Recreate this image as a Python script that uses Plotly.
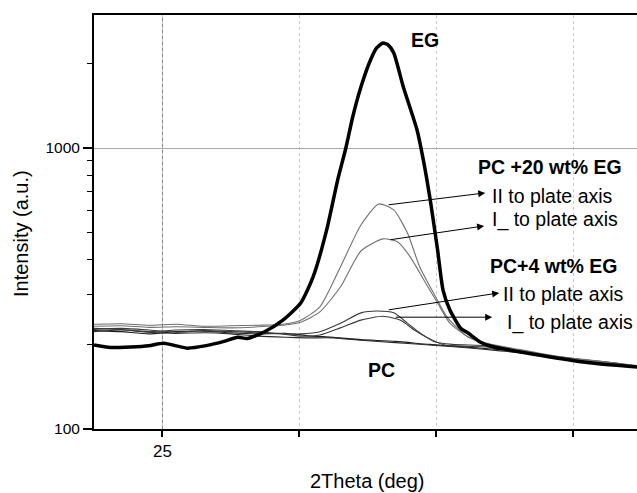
import math
import plotly.graph_objects as go

# ---- data (2Theta in deg, intensity in a.u.) ----
eg_x = [24.50, 24.62, 24.77, 24.90, 25.01, 25.18, 25.32, 25.45, 25.55, 25.62, 25.74, 25.88,
        26.01, 26.10, 26.20, 26.28, 26.34, 26.39, 26.45, 26.52, 26.565, 26.61, 26.65, 26.69,
        26.76, 26.86, 26.91, 26.96, 27.01, 27.05, 27.10, 27.18, 27.23, 27.32, 27.40, 27.76,
        28.12, 28.47]
eg_i = [199, 195, 196, 198, 202, 194, 198, 205, 212, 210, 221, 244,
        281, 347, 511, 769, 1000, 1289, 1648, 2056, 2270, 2364, 2325, 2178,
        1648, 1159, 885, 637, 434, 312, 265, 228, 220, 204, 197, 183,
        172, 166]

pc20_par_x = [24.50, 24.70, 24.90, 25.10, 25.30, 25.50, 25.70, 25.88, 26.01, 26.15, 26.30, 26.45,
              26.58, 26.69, 26.79, 26.88, 26.98, 27.08, 27.23, 27.37, 27.60, 27.90, 28.20, 28.47]
pc20_par_i = [236, 237, 234, 236, 232, 233, 234, 236, 244, 272, 377, 532,
              632, 602, 498, 377, 305, 250, 213, 202, 192, 181, 174, 168]

pc20_perp_x = [24.50, 24.70, 24.90, 25.10, 25.30, 25.50, 25.70, 25.88, 26.01, 26.15, 26.30, 26.45,
               26.61, 26.72, 26.81, 26.91, 27.01, 27.10, 27.23, 27.37, 27.60, 27.90, 28.20, 28.47]
pc20_perp_i = [232, 233, 230, 231, 230, 229, 231, 234, 240, 261, 320, 430,
               475, 463, 410, 339, 281, 238, 213, 201, 191, 180, 173, 167]

pc4_par_x = [24.50, 24.70, 24.90, 25.10, 25.30, 25.50, 25.70, 25.90, 26.01, 26.15, 26.30, 26.45,
             26.57, 26.69, 26.79, 26.88, 26.98, 27.12, 27.37, 27.60, 27.90, 28.20, 28.47]
pc4_par_i = [228, 226, 222, 225, 226, 224, 222, 218, 218, 222, 238, 259,
             263, 259, 238, 220, 205, 200, 198, 190, 180, 173, 167]

pc4_perp_x = [24.50, 24.70, 24.90, 25.10, 25.30, 25.50, 25.70, 25.90, 26.01, 26.15, 26.30, 26.45,
              26.61, 26.74, 26.84, 26.94, 27.06, 27.20, 27.37, 27.60, 27.90, 28.20, 28.47]
pc4_perp_i = [226, 228, 225, 221, 224, 222, 220, 217, 214, 216, 229, 244,
              252, 244, 225, 211, 199, 197, 196, 189, 179, 172, 166]

pc_x = [24.50, 24.70, 24.90, 25.10, 25.30, 25.50, 25.70, 25.90, 26.05, 26.25, 26.45, 26.70,
        26.95, 27.20, 27.45, 27.70, 28.00, 28.30, 28.47]
pc_a_i = [224, 222, 218, 222, 223, 220, 218, 219, 215, 212, 208, 205,
          200, 196, 192, 186, 178, 172, 167]
pc_b_i = [222, 225, 221, 219, 220, 218, 214, 212, 211, 211, 207, 203,
          199, 195, 190, 185, 177, 171, 166]

x_tick_vals = [25, 26, 27, 28]
x_tick_text = ["25", "", "", ""]
y_tick_vals = [100, 1000]
y_tick_text = ["100", "1000"]
y_minor_vals = [200, 300, 400, 500, 600, 700, 800, 900, 2000]

# label texts and anchor positions (2Theta, intensity)
labels = ["EG", "PC +20 wt% EG", "II to plate axis", "I_ to plate axis",
          "PC+4 wt% EG", "II to plate axis", "I_ to plate axis", "PC"]
label_x = [26.80, 27.29, 27.39, 27.39, 27.38, 27.47, 27.50, 26.49]
label_i = [2421, 855, 675, 555, 380, 302, 240, 162]
label_bold = [True, True, False, False, True, False, False, True]

# arrows: tail (on curve peak) -> head (towards label)
arrow_tail_x = [26.642, 26.657, 26.642, 26.693]
arrow_tail_i = [627, 471, 265, 250]
arrow_head_x = [27.358, 27.350, 27.460, 27.409]
arrow_head_i = [692, 528, 305, 250]

FONT = "Liberation Sans, Arial, Helvetica, sans-serif"

fig = go.Figure()


def add_line(x, y, color, width):
    fig.add_trace(go.Scatter(x=x, y=y, mode="lines",
                             line=dict(color=color, width=width, shape="spline", smoothing=0.6),
                             showlegend=False, hoverinfo="skip"))


add_line(pc_x, pc_a_i, "#1e1e1e", 1.1)
add_line(pc_x, pc_b_i, "#2a2a2a", 1.1)
add_line(pc4_par_x, pc4_par_i, "#3a3a3a", 1.1)
add_line(pc4_perp_x, pc4_perp_i, "#3a3a3a", 1.1)
add_line(pc20_par_x, pc20_par_i, "#707070", 1.1)
add_line(pc20_perp_x, pc20_perp_i, "#707070", 1.1)
add_line(eg_x, eg_i, "#000000", 3.5)

annotations = []
for t, lx, li, b in zip(labels, label_x, label_i, label_bold):
    annotations.append(dict(x=lx, y=math.log10(li), xref="x", yref="y",
                            text=f"<b>{t}</b>" if b else t, showarrow=False,
                            xanchor="left", yanchor="middle",
                            font=dict(family=FONT, size=19.5, color="black")))
for tx, ti, hx, hi in zip(arrow_tail_x, arrow_tail_i, arrow_head_x, arrow_head_i):
    annotations.append(dict(x=hx, y=math.log10(hi), ax=tx, ay=math.log10(ti),
                            xref="x", yref="y", axref="x", ayref="y",
                            text="", showarrow=True, arrowhead=2, arrowsize=1.4,
                            arrowwidth=1, arrowcolor="black", standoff=0, startstandoff=0))

# axis titles
annotations.append(dict(x=0.5046, y=-0.1256, xref="paper", yref="paper",
                        text="2Theta (deg)", showarrow=False, xanchor="center", yanchor="middle",
                        font=dict(family=FONT, size=20, color="black")))
annotations.append(dict(x=-0.1344, y=0.471, xref="paper", yref="paper",
                        text="Intensity (a.u.)", showarrow=False, textangle=-90,
                        xanchor="center", yanchor="middle",
                        font=dict(family=FONT, size=20, color="black")))

fig.update_layout(
    width=637, height=493,
    margin=dict(l=94, r=0, t=15, b=64),
    paper_bgcolor="white", plot_bgcolor="white",
    font=dict(family=FONT, color="black"),
    annotations=annotations,
    shapes=[dict(type="line", xref="x", yref="paper", x0=25, x1=25, y0=0, y1=1,
                 line=dict(color="#808080", width=1), layer="below")],
    xaxis=dict(range=[24.5, 28.467], tickvals=x_tick_vals, ticktext=x_tick_text,
               ticks="outside", ticklen=6, tickwidth=1.5, tickcolor="black",
               showline=True, linecolor="black", linewidth=1.5, mirror=True,
               showgrid=True, gridcolor="#c8c8c8", griddash="dot", gridwidth=1,
               zeroline=False, tickfont=dict(family=FONT, size=17)),
    yaxis=dict(type="log", range=[2, 3.4733], tickvals=y_tick_vals, ticktext=y_tick_text,
               ticks="outside", ticklen=9, tickwidth=1.5, tickcolor="black",
               minor=dict(tickvals=y_minor_vals, ticks="outside", ticklen=5,
                          tickcolor="black", tickwidth=1, showgrid=False),
               showline=True, linecolor="black", linewidth=2, mirror=False,
               showgrid=True, gridcolor="#a8a8a8", gridwidth=1,
               zeroline=False, tickfont=dict(family=FONT, size=15.5)),
)

fig.write_html("out.html")
